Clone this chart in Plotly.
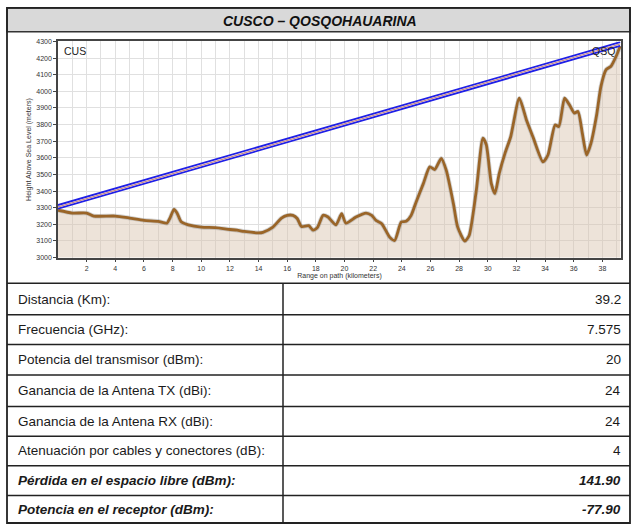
import plotly.graph_objects as go

W, H = 632, 527

# --- datos del perfil ---
dist_km = [0, 1, 2, 2.5, 4, 5, 6, 7, 7.6, 7.8, 8.1, 8.3, 8.6, 9.1, 10, 11, 12, 12.5, 13, 14,
           14.3, 15, 15.6, 16, 16.4, 16.7, 17, 17.5, 17.8, 18.1, 18.5, 18.85, 19.4, 19.8, 20.1,
           20.8, 21.5, 21.9, 22.2, 22.6, 23.15, 23.5, 23.96, 24.3, 24.65, 25.0, 25.5, 25.95,
           26.3, 26.75, 27.1, 27.6, 27.9, 28.4, 28.7, 29.2, 29.66, 29.9, 30.25, 30.5, 30.8,
           31.2, 31.6, 32.2, 32.7, 33.15, 33.85, 34.2, 34.7, 34.96, 35.36, 35.7, 36.05, 36.3,
           36.6, 36.9, 37.2, 37.6, 37.9, 38.26, 38.6, 38.96, 39.24]
altura_m = [3285, 3268, 3268, 3250, 3250, 3238, 3224, 3218, 3207, 3235, 3290, 3270, 3215, 3197,
            3183, 3180, 3169, 3165, 3157, 3149, 3152, 3183, 3238, 3254, 3254, 3235, 3187, 3192,
            3165, 3180, 3254, 3244, 3197, 3264, 3207, 3244, 3268, 3254, 3224, 3204, 3123, 3103,
            3214, 3218, 3254, 3335, 3445, 3546, 3530, 3597, 3526, 3325, 3183, 3099, 3133, 3405,
            3718, 3678, 3445, 3385, 3506, 3627, 3727, 3959, 3828, 3727, 3576, 3617, 3798, 3788,
            3959, 3919, 3869, 3879, 3748, 3617, 3687, 3859, 4030, 4131, 4151, 4211, 4272]

# línea de vista (extremos)
los_km = [0, 39.24]
los_m = [3305, 4285]

titulo = "CUSCO \u2013 QOSQOHAUARINA"
etiquetas = ["Distancia (Km):", "Frecuencia (GHz):", "Potencia del transmisor (dBm):",
             "Ganancia de la Antena TX (dBi):", "Ganancia de la Antena RX (dBi):",
             "Atenuación por cables y conectores (dB):", "Pérdida en el espacio libre (dBm):",
             "Potencia en el receptor (dBm):"]
valores = ["39.2", "7.575", "20", "24", "24", "4", "141.90", "-77.90"]
resaltadas = [False, False, False, False, False, False, True, True]


def py(px):
    return 1 - px / H


def pxx(px):
    return px / W


FONT = "Liberation Sans, Arial, sans-serif"

fig = go.Figure()

# terreno: relleno + halo + línea
fig.add_trace(go.Scatter(x=dist_km, y=altura_m, mode="lines", fill="tozeroy",
                         fillcolor="rgba(214,193,170,0.45)",
                         line=dict(color="rgba(130,130,130,0.35)", width=4.5,
                                   shape="spline", smoothing=0.6),
                         hoverinfo="skip"))
fig.add_trace(go.Scatter(x=dist_km, y=altura_m, mode="lines",
                         line=dict(color="#9a6528", width=2.8, shape="spline", smoothing=0.6),
                         hoverinfo="skip"))

# línea de vista: dos bordes azules y centro rojizo
for off in (-11, 11):
    fig.add_trace(go.Scatter(x=los_km, y=[v + off for v in los_m], mode="lines",
                             line=dict(color="#1f1fe6", width=1.8), hoverinfo="skip"))
fig.add_trace(go.Scatter(x=los_km, y=los_m, mode="lines",
                         line=dict(color="#c98a8a", width=1.2), hoverinfo="skip"))

x0, x1 = 58, 621
y0, y1 = 38, 257

fig.update_layout(
    width=W, height=H, margin=dict(l=0, r=0, t=0, b=0),
    paper_bgcolor="white", plot_bgcolor="white", showlegend=False,
    font=dict(family=FONT, color="#222"),
    xaxis=dict(domain=[pxx(x0), pxx(x1)], range=[0, 39.3],
               tickvals=list(range(2, 39, 2)), ticks="outside", ticklen=3,
               tickcolor="#444", tickfont=dict(size=7, color="#333"),
               showgrid=True, gridcolor="#e0e0e0", gridwidth=1,
               minor=dict(dtick=1, tick0=0, showgrid=True, gridcolor="#e0e0e0"),
               showline=True, linecolor="#444", linewidth=1.5, mirror=True,
               zeroline=False,
               title=dict(text="Range on path (kilometers)", font=dict(size=7, color="#333"),
                          standoff=2)),
    yaxis=dict(domain=[py(y1), py(y0)], range=[3000, 4300], dtick=100,
               ticks="outside", ticklen=3, tickcolor="#444",
               tickfont=dict(size=7, color="#333"),
               showgrid=True, gridcolor="#e0e0e0", gridwidth=1,
               showline=True, linecolor="#444", linewidth=1.5, mirror=True,
               zeroline=False,
               title=dict(text="Height Above Sea Level (meters)", font=dict(size=7, color="#333"),
                          standoff=4)),
)

shapes = []
annots = []

# marco exterior y banda del título
shapes.append(dict(type="rect", xref="paper", yref="paper", x0=pxx(7), x1=pxx(630),
                   y0=py(4), y1=py(28), fillcolor="#d9d9d9",
                   line=dict(color="#333", width=1.5), layer="below"))
shapes.append(dict(type="rect", xref="paper", yref="paper", x0=pxx(7), x1=pxx(630),
                   y0=py(526), y1=py(4), line=dict(color="#222", width=1.8)))
annots.append(dict(text="<b><i>" + titulo + "</i></b>", xref="paper", yref="paper",
                   x=pxx(320), y=py(17), xanchor="center", yanchor="middle",
                   showarrow=False, font=dict(size=14, color="#111")))

# tabla de parámetros
fila_y = [283, 315, 345, 376, 408, 438, 468, 498, 526]
for yy in fila_y[:-1]:
    shapes.append(dict(type="line", xref="paper", yref="paper", x0=pxx(7), x1=pxx(630),
                       y0=py(yy), y1=py(yy), line=dict(color="#222", width=1.5)))
shapes.append(dict(type="line", xref="paper", yref="paper", x0=pxx(283), x1=pxx(283),
                   y0=py(fila_y[0]), y1=py(fila_y[-1]), line=dict(color="#222", width=1.5)))

for i, (lab, val) in enumerate(zip(etiquetas, valores)):
    yc = (fila_y[i] + fila_y[i + 1]) / 2
    if resaltadas[i]:
        lab = "<b><i>" + lab + "</i></b>"
        val = "<b><i>" + val + "</i></b>"
    annots.append(dict(text=lab, xref="paper", yref="paper", x=pxx(16), y=py(yc),
                       xanchor="left", yanchor="middle", showarrow=False,
                       font=dict(size=13.5, color="#1a1a1a")))
    annots.append(dict(text=val, xref="paper", yref="paper", x=pxx(623), y=py(yc),
                       xanchor="right", yanchor="middle", showarrow=False,
                       font=dict(size=13.5, color="#1a1a1a")))

# nombres de las estaciones
annots.append(dict(text="CUS", xref="paper", yref="paper", x=pxx(62), y=py(40),
                   xanchor="left", yanchor="top", showarrow=False,
                   font=dict(size=10.5, color="#222")))
annots.append(dict(text="QSQ", xref="paper", yref="paper", x=pxx(617), y=py(40),
                   xanchor="right", yanchor="top", showarrow=False,
                   font=dict(size=10.5, color="#222")))

fig.update_layout(shapes=shapes, annotations=annots)

# sin margen del body para que la figura ocupe la ventana
fig.write_html("out.html", config={"displayModeBar": False},
               post_script="document.body.style.margin='0';document.body.style.overflow='hidden';")
